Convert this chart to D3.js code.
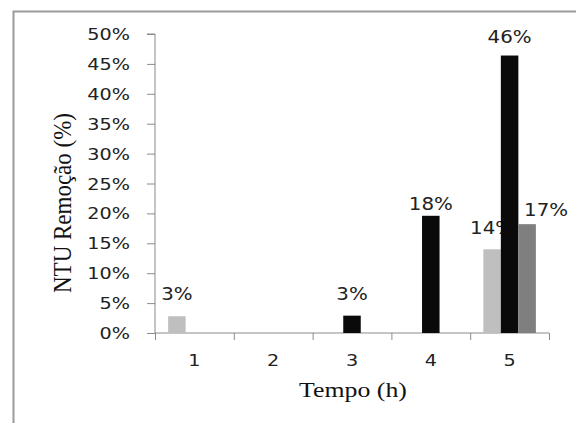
<!DOCTYPE html>
<meta charset="utf-8">
<head>
  <title>NTU Remoção</title>
  <script src="https://d3js.org/d3.v7.min.js"></script>
  <style>
    body { margin: 0; background: #fff; }
    svg { display: block; }
  </style>
</head>
<body>
<div id="chart"></div>
<script>
  // categories (hours) and the three series
  var tempos = ["1", "2", "3", "4", "5"];
  var serieA = [0.028, 0, 0, 0, 0.140];      // light grey
  var serieB = [0, 0, 0.029, 0.196, 0.464];  // black
  var serieC = [0, 0, 0, 0, 0.182];          // dark grey
  // data labels as printed on the chart (percent)
  var rotuloA = [3, null, null, null, 14];
  var rotuloB = [null, null, 3, 18, 46];
  var rotuloC = [null, null, null, null, 17];
  var yTicks = [0, 0.05, 0.10, 0.15, 0.20, 0.25, 0.30, 0.35, 0.40, 0.45, 0.50];

  var width = 576, height = 423;
  var plotLeft = 155, plotRight = 549, plotTop = 34, plotBottom = 333;

  var svg = d3.select("#chart").append("svg")
    .attr("width", width)
    .attr("height", height);

  // frame of the original picture (only left + top edges are visible)
  svg.append("path")
    .attr("d", "M13.5," + height + "V11.5H" + width)
    .attr("fill", "none")
    .attr("stroke", "#9a9a9a")
    .attr("stroke-width", 2);

  var x0 = d3.scaleBand().domain(tempos).range([plotLeft, plotRight]).padding(0);
  var series = [
    {name: "a", values: serieA, labels: rotuloA, color: "#bfbfbf"},
    {name: "b", values: serieB, labels: rotuloB, color: "#0a0a0a"},
    {name: "c", values: serieC, labels: rotuloC, color: "#7f7f7f"}
  ];
  var x1 = d3.scaleBand().domain(series.map(function(s) { return s.name; }))
    .range([0, x0.bandwidth()]).paddingInner(0).paddingOuter(0.75);
  var y = d3.scaleLinear().domain([0, 0.5]).range([plotBottom, plotTop]);

  // y axis
  var yAxis = svg.append("g")
    .attr("transform", "translate(" + plotLeft + ",0)")
    .call(d3.axisLeft(y).tickValues(yTicks).tickSize(8).tickFormat(d3.format(".0%")));
  yAxis.select(".domain").attr("stroke", "#8a8a8a").attr("d", "M-8," + plotTop + "H0V" + plotBottom);
  yAxis.selectAll(".tick line").attr("stroke", "#8a8a8a");
  yAxis.selectAll(".tick text")
    .attr("x", null).attr("dy", null)
    .attr("transform", "translate(-25,5.5) scale(1.2,1)")
    .attr("fill", "#222")
    .style("font-family", "DejaVu Sans")
    .style("font-size", "16px");

  // x axis: ticks at the band edges, labels at the centres
  var xEdge = d3.scaleLinear().domain([0, tempos.length]).range([plotLeft, plotRight]);
  var xTicks = svg.append("g")
    .attr("transform", "translate(0," + plotBottom + ")")
    .call(d3.axisBottom(xEdge).ticks(tempos.length).tickSize(7).tickFormat(""));
  xTicks.select(".domain").attr("stroke", "#8a8a8a").attr("d", "M" + plotLeft + ",0H" + plotRight);
  xTicks.selectAll(".tick line").attr("stroke", "#8a8a8a");

  var xLabels = svg.append("g")
    .attr("transform", "translate(0," + plotBottom + ")")
    .call(d3.axisBottom(x0).tickSize(0));
  xLabels.select(".domain").remove();
  xLabels.selectAll(".tick text")
    .attr("y", null).attr("dy", null)
    .attr("transform", "translate(0,33) scale(1.2,1)")
    .attr("fill", "#222")
    .style("font-family", "DejaVu Sans")
    .style("font-size", "16px");

  // bars and their labels, series by series (later series cover earlier labels)
  series.forEach(function(s) {
    var g = svg.append("g");
    var rows = tempos.map(function(t, i) { return {t: t, v: s.values[i], lab: s.labels[i]}; });
    g.selectAll("rect")
      .data(rows.filter(function(d) { return d.v > 0; }))
      .enter().append("rect")
        .attr("x", function(d) { return x0(d.t) + x1(s.name); })
        .attr("y", function(d) { return y(d.v); })
        .attr("width", x1.bandwidth())
        .attr("height", function(d) { return plotBottom - y(d.v); })
        .attr("fill", s.color);
    g.selectAll("text")
      .data(rows.filter(function(d) { return d.lab != null; }))
      .enter().append("text")
        .attr("transform", function(d) {
          var cx = x0(d.t) + x1(s.name) + x1.bandwidth() / 2;
          if (s.name == "c") cx += 19; // label was pushed right of the bar
          return "translate(" + cx + "," + (y(d.lab / 100) - 15) + ") scale(1.1,1)";
        })
        .attr("text-anchor", "middle")
        .attr("fill", "#222")
        .style("font-family", "DejaVu Sans")
        .style("font-size", "18px")
        .text(function(d) { return d.lab + "%"; });
  });

  // axis titles
  svg.append("text")
    .attr("transform", "translate(71,203) rotate(-90) scale(1,1.08)")
    .attr("text-anchor", "middle")
    .attr("fill", "#111")
    .style("font-family", "Liberation Serif")
    .style("font-size", "23px")
    .text("NTU Remoção (%)");

  svg.append("text")
    .attr("transform", "translate(353,397) scale(1.29,1)")
    .attr("text-anchor", "middle")
    .attr("fill", "#111")
    .style("font-family", "Liberation Serif")
    .style("font-size", "20px")
    .text("Tempo (h)");
</script>
</body>
